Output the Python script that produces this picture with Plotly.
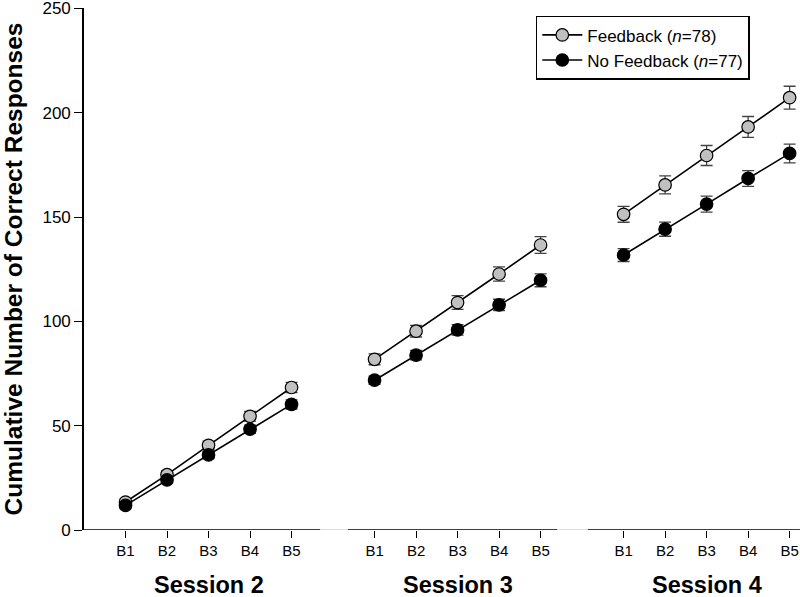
import plotly.graph_objects as go

sessions = ["Session 2", "Session 3", "Session 4"]
blocks = ["B1", "B2", "B3", "B4", "B5"]
y_ticks = [0, 50, 100, 150, 200, 250]

feedback_s2 = [13.4, 26.5, 40.6, 54.5, 68.3]
feedback_s3 = [81.8, 95.3, 109.0, 122.7, 136.6]
feedback_s4 = [151.3, 165.4, 179.5, 193.2, 207.2]
feedback_err_s2 = [1.5, 1.8, 2.0, 2.3, 2.5]
feedback_err_s3 = [2.6, 2.8, 3.3, 3.4, 4.0]
feedback_err_s4 = [3.8, 4.3, 4.8, 5.0, 5.5]

nofeedback_s2 = [11.8, 24.0, 36.0, 48.3, 60.2]
nofeedback_s3 = [71.8, 83.8, 95.9, 107.9, 119.7]
nofeedback_s4 = [131.8, 144.2, 156.2, 168.5, 180.5]
nofeedback_err_s2 = [1.3, 1.5, 1.8, 2.0, 2.2]
nofeedback_err_s3 = [2.0, 2.3, 2.5, 2.7, 3.1]
nofeedback_err_s4 = [3.1, 3.4, 3.8, 3.8, 4.5]

FONT = "Arial, Liberation Sans, sans-serif"

# x positions: blocks 1..5 per session, one empty slot between sessions
xpos = []
for s in range(len(sessions)):
    xpos.append([s * 6 + b + 1 for b in range(len(blocks))])


def join(parts):
    out = []
    for i, p in enumerate(parts):
        if i:
            out.append(None)
        out.extend(p)
    return out


x_all = join(xpos)
fb = join([feedback_s2, feedback_s3, feedback_s4])
fb_e = join([feedback_err_s2, feedback_err_s3, feedback_err_s4])
nf = join([nofeedback_s2, nofeedback_s3, nofeedback_s4])
nf_e = join([nofeedback_err_s2, nofeedback_err_s3, nofeedback_err_s4])

fig = go.Figure()
fig.add_trace(go.Scatter(
    x=x_all, y=fb, mode="lines+markers", name="Feedback (<i>n</i>=78)",
    line=dict(color="black", width=1.6),
    marker=dict(size=12.5, color="#c0c0c0", line=dict(color="black", width=1.2)),
    error_y=dict(type="data", array=fb_e, visible=True, color="#444444",
                 thickness=1.3, width=6),
    connectgaps=False, cliponaxis=False,
))
fig.add_trace(go.Scatter(
    x=x_all, y=nf, mode="lines+markers", name="No Feedback (<i>n</i>=77)",
    line=dict(color="black", width=1.6),
    marker=dict(size=12.5, color="black", line=dict(color="black", width=1.2)),
    error_y=dict(type="data", array=nf_e, visible=True, color="#444444",
                 thickness=1.3, width=6),
    connectgaps=False, cliponaxis=False,
))

tickvals = [v for p in xpos for v in p]
ticktext = blocks * len(sessions)

# broken x-axis line
gap_edges = [(0, 5.69), (6.36, 11.4), (12.14, 17.5)]
for a, b in gap_edges:
    fig.add_shape(type="line", xref="x", yref="y", x0=a, x1=b, y0=0, y1=0,
                  line=dict(color="black", width=1.6), layer="below")
for (a0, a1), (b0, b1) in zip(gap_edges[:-1], gap_edges[1:]):
    fig.add_shape(type="line", xref="x", yref="y", x0=a1, x1=b0, y0=0, y1=0,
                  line=dict(color="#bbbbbb", width=1), layer="below")

for s, name in enumerate(sessions):
    fig.add_annotation(x=xpos[s][2], y=-0.105, xref="x", yref="paper",
                       text="<b>%s</b>" % name, showarrow=False,
                       font=dict(family=FONT, size=23.5, color="black"),
                       yanchor="middle")

fig.update_layout(
    width=800, height=597,
    margin=dict(l=84, r=0, t=8, b=67),
    paper_bgcolor="white", plot_bgcolor="white",
    showlegend=True,
    legend=dict(x=0.631, y=0.985, xanchor="left", yanchor="top",
                bordercolor="black", borderwidth=1.5, bgcolor="white",
                font=dict(family=FONT, size=17, color="black"),
                tracegroupgap=0, itemwidth=40),
    font=dict(family=FONT, color="black"),
)
fig.update_xaxes(range=[0, 17.25], showgrid=False, zeroline=False, showline=False,
                 automargin=False,
                 tickmode="array", tickvals=tickvals, ticktext=ticktext,
                 ticks="outside", ticklen=7, tickwidth=1.3, tickcolor="black",
                 tickfont=dict(family=FONT, size=15, color="black"))
fig.update_yaxes(range=[0, 250.2], tickmode="array", tickvals=y_ticks,
                 showgrid=False, zeroline=False,
                 automargin=False, ticklabeloverflow="allow",
                 showline=True, linecolor="black", linewidth=1.6,
                 ticks="outside", ticklen=8, tickwidth=1.3, tickcolor="black",
                 tickfont=dict(family=FONT, size=17, color="black"),
                 title=dict(text="<b>Cumulative Number of Correct Responses</b>",
                            font=dict(family=FONT, size=24.5, color="black"),
                            standoff=14))

fig.write_html("out.html", config={"displayModeBar": False},
               post_script="document.body.style.margin='0px';document.body.style.overflow='hidden';")
